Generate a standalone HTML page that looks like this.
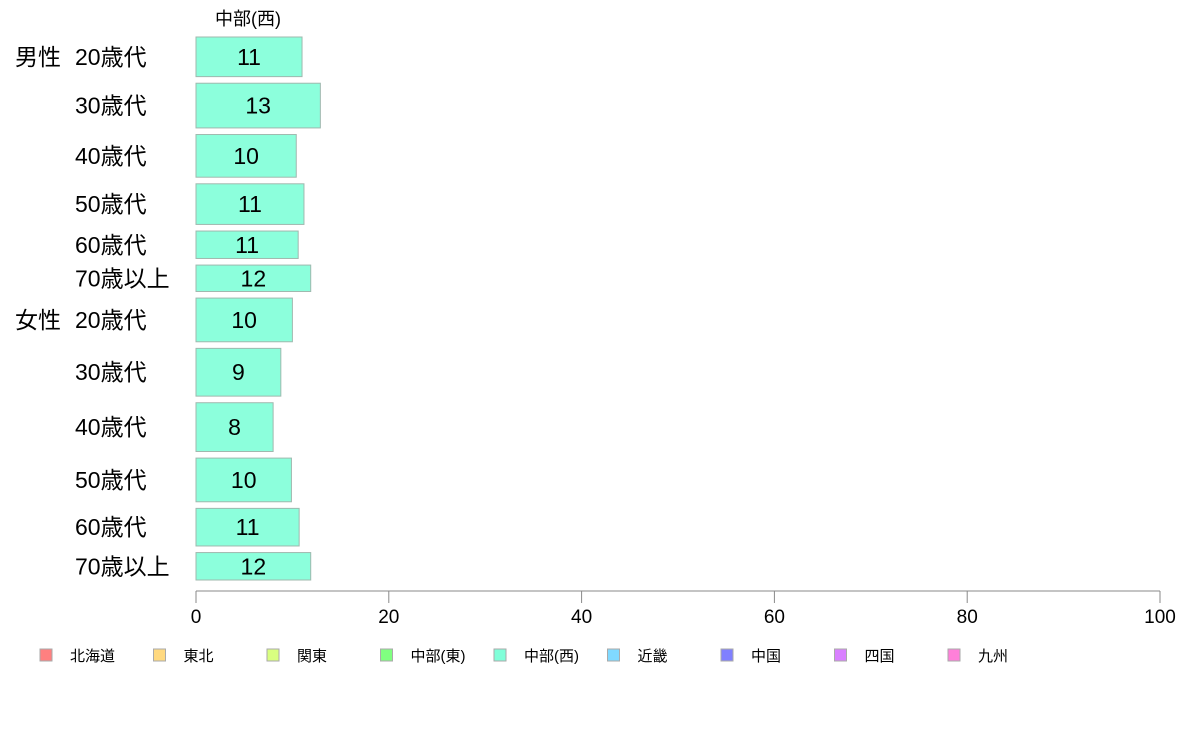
<!DOCTYPE html>
<html><head><meta charset="utf-8"><style>
body{margin:0;background:#fff;}
svg text{font-family:"Liberation Sans","Noto Sans CJK JP",sans-serif;}
</style></head><body>
<svg id="c" width="1188" height="736" xmlns="http://www.w3.org/2000/svg"></svg>
<script>
const groups = ["男性","","","","","","女性","","","","",""];
const categories = ["20歳代","30歳代","40歳代","50歳代","60歳代","70歳以上","20歳代","30歳代","40歳代","50歳代","60歳代","70歳以上"];
const values = [11.0,12.9,10.4,11.2,10.6,11.9,10.0,8.8,8.0,9.9,10.7,11.9];
const labels = ["11","13","10","11","11","12","10","9","8","10","11","12"];
const weights = [39,44,42,40,27,26,43,47,48,43,37,27];
const ticks = [0,20,40,60,80,100];
const legendNames = ["北海道","東北","関東","中部(東)","中部(西)","近畿","中国","四国","九州"];
const legendColors = ["#ff8080","#ffd980","#d9ff80","#80ff80","#80ffd9","#80d9ff","#8080ff","#d980ff","#ff80d9"];

const svg=document.getElementById('c');
const NS="http://www.w3.org/2000/svg";
function mk(t,a,p){const e=document.createElementNS(NS,t);for(const k in a)e.setAttribute(k,a[k]);(p||svg).appendChild(e);return e;}
const x0=196,x1=1160,yTop=37,yBot=580;
const x=v=>x0+(v/100)*(x1-x0);
const gapTotal=6.6*(weights.length-1);
const wsum=weights.reduce((a,b)=>a+b,0);
const scale=(yBot-yTop-gapTotal)/wsum;

let t=mk('text',{x:248,y:25,'font-size':18,'text-anchor':'middle',fill:'#000'});


t.textContent="中部(西)";

let y=yTop;
categories.forEach((c,i)=>{
  const h=weights[i]*scale;
  const r=mk('rect',{x:x0,y:y,width:x(values[i])-x0,height:h,fill:'#8cffdc',stroke:'#9fb8ae','stroke-width':1});
  
  
  const cy=y+h/2+8;
  const v=mk('text',{x:(x0+x(values[i]))/2,y:cy,'font-size':23,'text-anchor':'middle',fill:'#000'});
  
  
  v.textContent=labels[i];
  const l=mk('text',{x:75,y:cy,'font-size':23,fill:'#000'});
  
  
  l.textContent=c;
  if(groups[i]){
    const g=mk('text',{x:15,y:cy,'font-size':23,fill:'#000'});
    
    
    g.textContent=groups[i];
  }
  y+=h+6.6;
});

const ax=mk('line',{x1:x0,y1:591,x2:x1,y2:591,stroke:'#888','stroke-width':1});


ticks.forEach(v=>{
  const tk=mk('line',{x1:x(v),y1:591,x2:x(v),y2:603,stroke:'#888'});
  
  
  const tl=mk('text',{x:x(v),y:623,'font-size':19,'text-anchor':'middle',fill:'#000'});
  
  
  tl.textContent=v;
});

legendNames.forEach((n,i)=>{
  const lx=40+i*113.5;
  const s=mk('rect',{x:lx,y:649,width:12,height:12,fill:legendColors[i],stroke:'#aaa'});
  
  
  const lt=mk('text',{x:lx+30,y:661,'font-size':15,fill:'#000'});
  
  
  lt.textContent=n;
});
</script>
</body></html>
